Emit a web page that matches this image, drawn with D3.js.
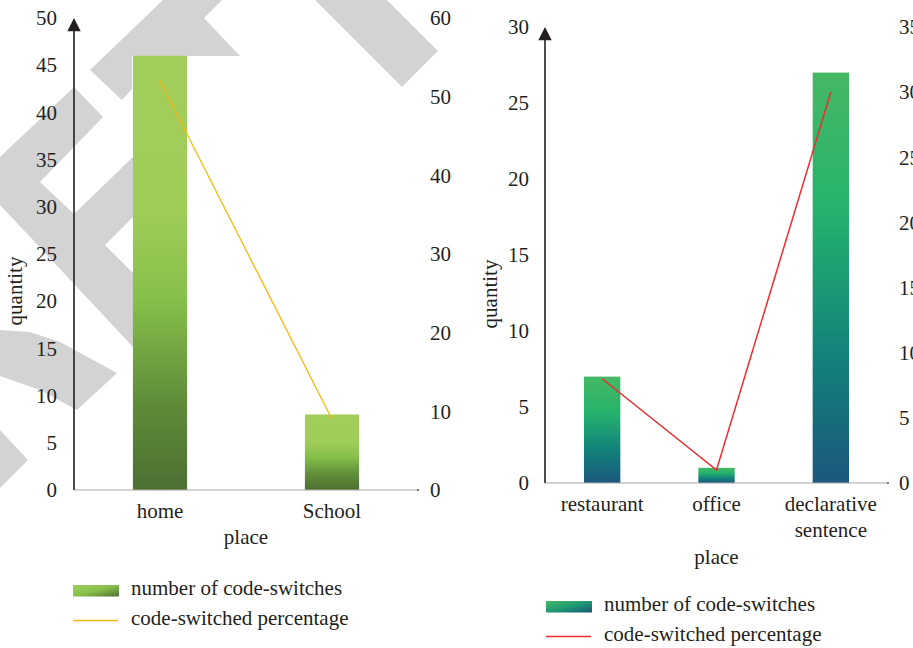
<!DOCTYPE html>
<html>
<head>
<meta charset="utf-8">
<script src="https://cdn.jsdelivr.net/npm/d3@7"></script>
<style>
  html, body { margin: 0; padding: 0; background: #fff; }
  svg { display: block; }
  text { font-family: "Liberation Serif", "DejaVu Serif", "Times New Roman", serif; fill: #231f20; }
</style>
</head>
<body>
<svg id="chart" width="913" height="648"></svg>
<script>
// ---- data ----
const leftCategories = ["home", "School"];
const leftCounts = [46, 8];          // number of code-switches
const leftPercents = [52, 9];        // code-switched percentage
const leftCountTicks = [0, 5, 10, 15, 20, 25, 30, 35, 40, 45, 50];
const leftPercentTicks = [0, 10, 20, 30, 40, 50, 60];

const rightCategories = ["restaurant", "office", "declarative sentence"];
const rightCounts = [7, 1, 27];
const rightPercents = [8, 1, 30];
const rightCountTicks = [0, 5, 10, 15, 20, 25, 30];
const rightPercentTicks = [0, 5, 10, 15, 20, 25, 30, 35];

const xTitle = "place";
const yTitle = "quantity";
const countLabel = "number of code-switches";
const percentLabel = "code-switched percentage";

const svg = d3.select("#chart");
const FONT = 21;
const SERIF = '"Liberation Serif", "DejaVu Serif", serif';
const ink = "#231f20";

// ---- gradients ----
const defs = svg.append("defs");
function gradient(id, stops, x2, y2) {
  const g = defs.append("linearGradient").attr("id", id)
    .attr("x1", 0).attr("y1", 0).attr("x2", x2).attr("y2", y2);
  stops.forEach(([o, c]) => g.append("stop").attr("offset", o).attr("stop-color", c));
}
const greenStops = [[0, "#a3cd5b"], [0.36, "#a0cc58"], [0.56, "#86c04a"], [0.8, "#5f8c39"], [1, "#4d6f31"]];
const tealStops = [[0, "#46b864"], [0.33, "#26b36d"], [0.68, "#12837a"], [1, "#1b577c"]];
gradient("barGreen", greenStops, 0, 1);
gradient("barTeal", tealStops, 0, 1);
gradient("keyGreen", [[0, "#a3cd5b"], [0.5, "#86c04a"], [1, "#4d6f31"]], 1, 1);
gradient("keyTeal", [[0, "#46b864"], [0.5, "#1f9a72"], [1, "#1b577c"]], 1, 1);

// ---- background watermark bands ----
const bands = [
  [[90,70],[163,0],[222,0],[204,18],[240,56],[132,56],[132,89],[122,100]],
  [[315,0],[387,0],[438,51],[402,87]],
  [[0,157],[74,87],[103,117],[40,182],[74,214],[133,157],[133,217],[105,245],[133,273],[133,347],[33,240],[0,205]],
  [[0,330],[30,332],[60,342],[117,373],[77,410],[40,390],[0,376]],
  [[0,430],[28,460],[0,488]]
];
svg.append("g").selectAll("polygon").data(bands).join("polygon")
  .attr("points", d => d.map(p => p.join(",")).join(" "))
  .attr("fill", "#d3d3d3");

// ---- one combined bar + line panel ----
function panel(cfg) {
  const g = svg.append("g");
  const x = d3.scaleBand().domain(cfg.categories).range([cfg.x0, cfg.x1]).padding(0);
  const y = d3.scaleLinear().domain([0, d3.max(cfg.countTicks)]).range([cfg.y0, cfg.yTop]);
  const y2 = d3.scaleLinear().domain([0, d3.max(cfg.percentTicks)]).range([cfg.y0, cfg.yTop]);
  const bw = x.bandwidth() * cfg.barFrac;
  const cx = d => x(d) + x.bandwidth() / 2;

  // bars
  g.append("g").selectAll("rect").data(cfg.categories).join("rect")
    .attr("x", d => cx(d) - bw / 2)
    .attr("y", (d, i) => y(cfg.counts[i]))
    .attr("width", bw)
    .attr("height", (d, i) => cfg.y0 - y(cfg.counts[i]))
    .attr("fill", `url(#${cfg.barFill})`);

  // x baseline
  g.append("line")
    .attr("x1", cfg.x0).attr("x2", cfg.x1)
    .attr("y1", cfg.y0).attr("y2", cfg.y0)
    .attr("stroke", "#a8a8a8").attr("stroke-width", 1.2);
  g.append("circle").attr("cx", cfg.x1).attr("cy", cfg.y0).attr("r", 1).attr("fill", "#555");

  // percentage line
  const line = d3.line().x(d => cx(d.c)).y(d => y2(d.v));
  g.append("path")
    .datum(cfg.categories.map((c, i) => ({ c, v: cfg.percents[i] })))
    .attr("d", line)
    .attr("fill", "none")
    .attr("stroke", cfg.lineColor)
    .attr("stroke-width", cfg.lineWidth);

  const styleText = sel => sel.style("font-size", FONT + "px").style("font-family", SERIF).attr("fill", ink);

  // left count axis labels
  const axL = g.append("g").attr("transform", `translate(${cfg.x0},0)`)
    .call(d3.axisLeft(y).tickValues(cfg.countTicks).tickSize(0).tickPadding(cfg.padL));
  axL.attr("font-family", null);
  axL.select(".domain").remove();
  axL.selectAll("text").call(styleText);

  // right percentage axis labels
  const axR = g.append("g").attr("transform", `translate(${cfg.x1},0)`)
    .call(d3.axisRight(y2).tickValues(cfg.percentTicks).tickSize(0).tickPadding(cfg.padR));
  axR.attr("font-family", null);
  axR.select(".domain").remove();
  axR.selectAll("text").call(styleText);

  // category labels (wrapped onto lines)
  const axB = g.append("g").attr("transform", `translate(0,${cfg.y0})`)
    .call(d3.axisBottom(x).tickSize(0).tickPadding(13));
  axB.attr("font-family", null);
  axB.select(".domain").remove();
  axB.selectAll("text").call(styleText)
    .each(function (d) {
      const words = d.split(" ");
      const t = d3.select(this).text(null);
      words.forEach((w, i) => t.append("tspan").attr("x", 0).attr("dy", i === 0 ? "0.71em" : "1.24em").text(w));
    });

  // vertical axis with arrow
  g.append("line")
    .attr("x1", cfg.x0).attr("x2", cfg.x0)
    .attr("y1", cfg.y0).attr("y2", cfg.yTop + 8)
    .attr("stroke", ink).attr("stroke-width", 1.6);
  g.append("path")
    .attr("d", `M${cfg.x0},${cfg.yTop} L${cfg.x0 + 6.7},${cfg.yTop + 13.3} L${cfg.x0 - 6.7},${cfg.yTop + 13.3} Z`)
    .attr("fill", ink);

  // titles
  g.append("text")
    .attr("x", (cfg.x0 + cfg.x1) / 2).attr("y", cfg.placeBase)
    .attr("text-anchor", "middle").call(styleText).text(xTitle);
  g.append("text")
    .attr("transform", `translate(${cfg.qx},${cfg.qy}) rotate(-90)`)
    .attr("text-anchor", "middle").call(styleText).text(yTitle);

  // legend
  const lg = g.append("g").attr("transform", `translate(${cfg.legX},${cfg.legY})`);
  lg.append("rect").attr("x", 0).attr("y", 0).attr("width", 46).attr("height", 11.5)
    .attr("fill", `url(#${cfg.keyFill})`);
  lg.append("text").attr("x", 58).attr("y", 10).call(styleText).text(countLabel);
  lg.append("line").attr("x1", 0).attr("x2", 45).attr("y1", 35.5).attr("y2", 35.5)
    .attr("stroke", cfg.lineColor).attr("stroke-width", cfg.lineWidth);
  lg.append("text").attr("x", 58).attr("y", 40).call(styleText).text(percentLabel);
}

panel({
  categories: leftCategories, counts: leftCounts, percents: leftPercents,
  countTicks: leftCountTicks, percentTicks: leftPercentTicks,
  x0: 74, x1: 418, y0: 490, yTop: 18, barFrac: 0.315,
  barFill: "barGreen", keyFill: "keyGreen",
  lineColor: "#f6b70e", lineWidth: 1.3,
  padL: 17, padR: 12, placeBase: 544, qx: 22, qy: 291,
  legX: 73, legY: 585
});

panel({
  categories: rightCategories, counts: rightCounts, percents: rightPercents,
  countTicks: rightCountTicks, percentTicks: rightPercentTicks,
  x0: 545, x1: 888, y0: 483, yTop: 27, barFrac: 0.318,
  barFill: "barTeal", keyFill: "keyTeal",
  lineColor: "#ee2a2e", lineWidth: 1.5,
  padL: 16, padR: 11, placeBase: 564, qx: 497, qy: 294,
  legX: 546, legY: 601
});
</script>
</body>
</html>
